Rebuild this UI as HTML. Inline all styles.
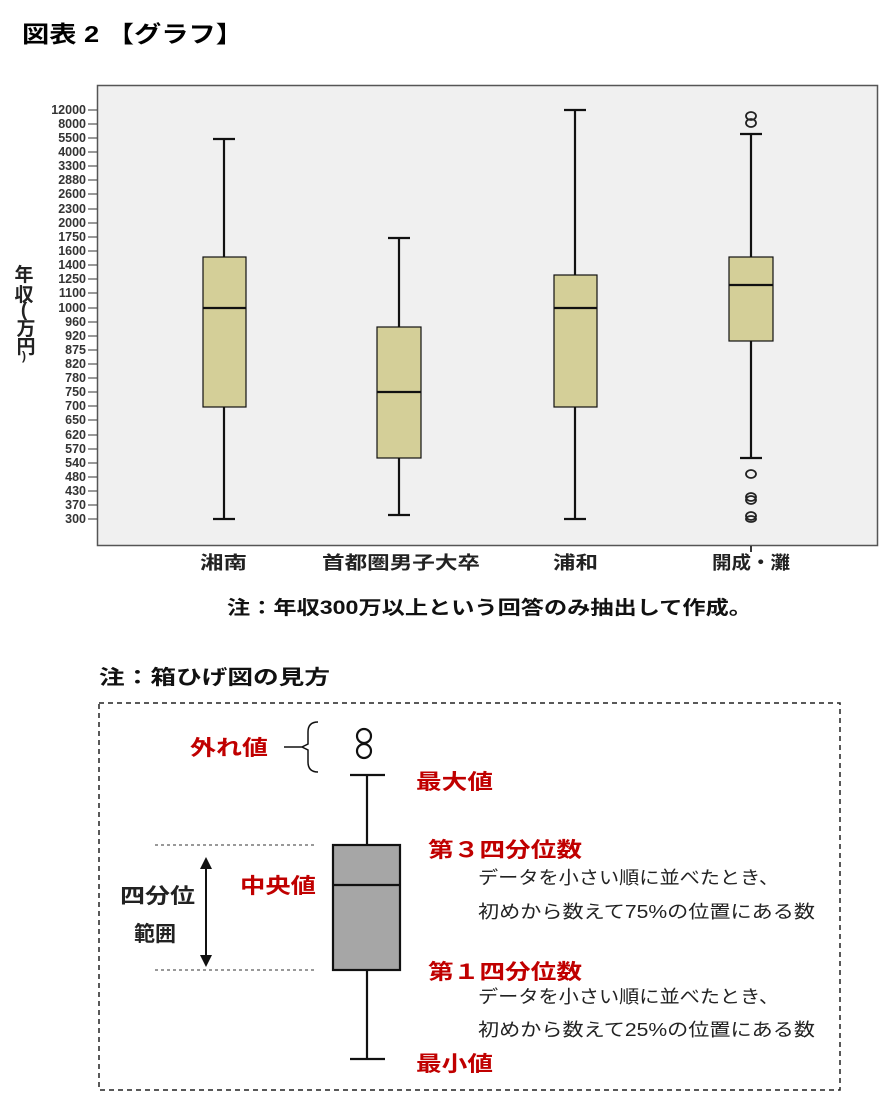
<!DOCTYPE html>
<html><head><meta charset="utf-8"><style>
body{margin:0;background:#fff;width:889px;height:1107px;overflow:hidden;font-family:"Liberation Sans","Noto Sans CJK JP",sans-serif}
</style></head><body>
<svg width="889" height="1107" viewBox="0 0 889 1107" xmlns="http://www.w3.org/2000/svg" font-family="Liberation Sans, Noto Sans CJK JP, sans-serif">
<text x="22" y="42" font-size="23" font-weight="bold" textLength="221" lengthAdjust="spacingAndGlyphs">図表 2 【グラフ】</text>
<rect x="97.5" y="85.5" width="780" height="460" fill="#f0f0f0" stroke="#555" stroke-width="1.5"/>
<g font-size="12.5" fill="#333" text-anchor="end" font-weight="bold">
<text x="86" y="114">12000</text><text x="86" y="128">8000</text><text x="86" y="142">5500</text><text x="86" y="156">4000</text><text x="86" y="170">3300</text><text x="86" y="184">2880</text><text x="86" y="198">2600</text><text x="86" y="213">2300</text><text x="86" y="227">2000</text><text x="86" y="241">1750</text><text x="86" y="255">1600</text><text x="86" y="269">1400</text><text x="86" y="283">1250</text><text x="86" y="297">1100</text><text x="86" y="312">1000</text><text x="86" y="326">960</text><text x="86" y="340">920</text><text x="86" y="354">875</text><text x="86" y="368">820</text><text x="86" y="382">780</text><text x="86" y="396">750</text><text x="86" y="410">700</text><text x="86" y="424">650</text><text x="86" y="439">620</text><text x="86" y="453">570</text><text x="86" y="467">540</text><text x="86" y="481">480</text><text x="86" y="495">430</text><text x="86" y="509">370</text><text x="86" y="523">300</text>
</g>
<g stroke="#333" stroke-width="1">
<path d="M88 110h9M88 124h9M88 138h9M88 152h9M88 166h9M88 180h9M88 194h9M88 209h9M88 223h9M88 237h9M88 251h9M88 265h9M88 279h9M88 293h9M88 308h9M88 322h9M88 336h9M88 350h9M88 364h9M88 378h9M88 392h9M88 406h9M88 420h9M88 435h9M88 449h9M88 463h9M88 477h9M88 491h9M88 505h9M88 519h9"/>
</g>
<g font-size="19" font-weight="bold" fill="#222" text-anchor="middle">
<text x="24" y="281">年</text><text x="24" y="301">収</text><text x="24" y="316">(</text><text x="26" y="335">万</text><text x="26" y="353">円</text><text x="24" y="360" font-size="12">)</text>
</g>
<g stroke="#111" stroke-width="2.2" fill="#d4cf98">
<path d="M224 139V519M213 139h22M213 519h22"/><rect x="203" y="257" width="43" height="150" stroke-width="1.2"/><path d="M203 308h43"/>
<path d="M399 238V515M388 238h22M388 515h22"/><rect x="377" y="327" width="44" height="131" stroke-width="1.2"/><path d="M377 392h44"/>
<path d="M575 110V519M564 110h22M564 519h22"/><rect x="554" y="275" width="43" height="132" stroke-width="1.2"/><path d="M554 308h43"/>
<path d="M751 134V458M740 134h22M740 458h22"/><rect x="729" y="257" width="44" height="84" stroke-width="1.2"/><path d="M729 285h44"/>
</g>
<g fill="none" stroke="#222" stroke-width="1.8">
<ellipse cx="751" cy="116" rx="5" ry="4"/><ellipse cx="751" cy="123" rx="5" ry="4"/>
<ellipse cx="751" cy="474" rx="5" ry="4"/>
<ellipse cx="751" cy="497" rx="5" ry="4"/><ellipse cx="751" cy="500" rx="5" ry="4"/>
<ellipse cx="751" cy="516" rx="5" ry="4"/><ellipse cx="751" cy="519" rx="5" ry="3"/><path d="M751 546v6"/>
</g>
<g font-size="18" fill="#222" font-weight="bold" lengthAdjust="spacingAndGlyphs">
<text x="200" y="569" textLength="47" lengthAdjust="spacingAndGlyphs">湘南</text>
<text x="322" y="569" textLength="158" lengthAdjust="spacingAndGlyphs">首都圏男子大卒</text>
<text x="553" y="569" textLength="45" lengthAdjust="spacingAndGlyphs">浦和</text>
<text x="712" y="569" textLength="78" lengthAdjust="spacingAndGlyphs">開成・灘</text>
</g>
<text x="227" y="614" font-size="19" font-weight="bold" fill="#111" textLength="525" lengthAdjust="spacingAndGlyphs">注：年収300万以上という回答のみ抽出して作成。</text>
<text x="99" y="684" font-size="20" font-weight="bold" fill="#111" textLength="231" lengthAdjust="spacingAndGlyphs">注：箱ひげ図の見方</text>
<rect x="99" y="703" width="741" height="387" fill="none" stroke="#222" stroke-width="1.5" stroke-dasharray="5,4"/>
<g stroke="#111" stroke-width="2.2" fill="none">
<path d="M367 775V845M350 775h35M367 970V1059M350 1059h35"/>
<rect x="333" y="845" width="67" height="125" fill="#a6a6a6"/><path d="M333 885h67"/>
<circle cx="364" cy="736" r="7"/><circle cx="364" cy="751" r="7"/>
</g>
<path d="M284 747h18M318 722q-10 0-10 10v12l-6 3 6 3v12q0 10 10 10" fill="none" stroke="#111" stroke-width="1.5"/>
<path d="M155 845h160M155 970h160" stroke="#333" stroke-dasharray="3,3"/>
<path d="M206 862V955" stroke="#111" stroke-width="2"/>
<path d="M206 857l-6 12h12zM206 967l-6-12h12z" fill="#111"/>
<g font-size="21" fill="#c00000" font-weight="bold">
<text x="190" y="755" textLength="78" lengthAdjust="spacingAndGlyphs">外れ値</text>
<text x="416" y="789" textLength="77" lengthAdjust="spacingAndGlyphs">最大値</text>
<text x="240" y="893" textLength="76" lengthAdjust="spacingAndGlyphs">中央値</text>
<text x="428" y="857" textLength="154" lengthAdjust="spacingAndGlyphs">第３四分位数</text>
<text x="428" y="979" textLength="154" lengthAdjust="spacingAndGlyphs">第１四分位数</text>
<text x="416" y="1071" textLength="77" lengthAdjust="spacingAndGlyphs">最小値</text>
</g>
<g font-size="21" fill="#222" font-weight="bold">
<text x="120" y="903" textLength="75" lengthAdjust="spacingAndGlyphs">四分位</text>
<text x="134" y="941" textLength="42" lengthAdjust="spacingAndGlyphs">範囲</text>
</g>
<g font-size="18" fill="#222">
<text x="478" y="884" textLength="301" lengthAdjust="spacingAndGlyphs">データを小さい順に並べたとき、</text>
<text x="478" y="918" textLength="337" lengthAdjust="spacingAndGlyphs">初めから数えて75%の位置にある数</text>
<text x="478" y="1003" textLength="301" lengthAdjust="spacingAndGlyphs">データを小さい順に並べたとき、</text>
<text x="478" y="1036" textLength="337" lengthAdjust="spacingAndGlyphs">初めから数えて25%の位置にある数</text>
</g>
</svg>
</body></html>
